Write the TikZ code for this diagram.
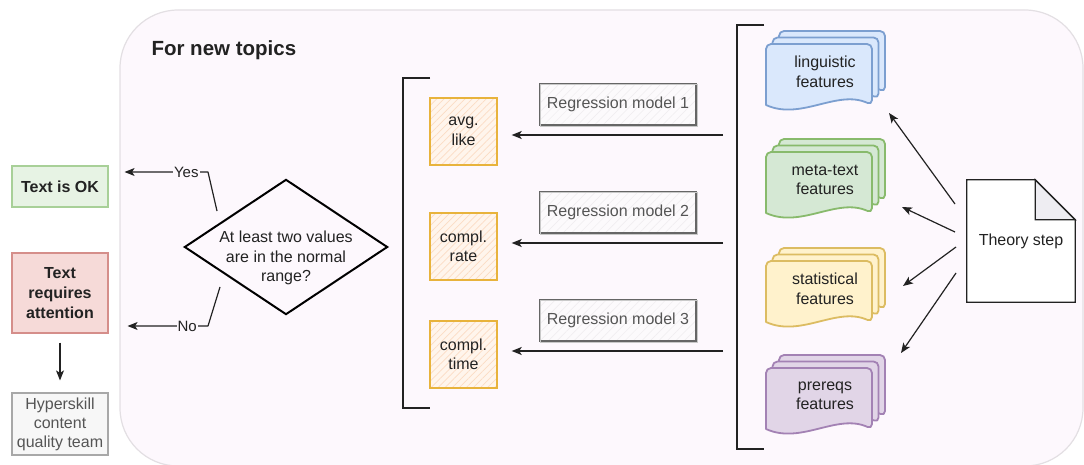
\documentclass[tikz,border=0pt]{standalone}
\usepackage{fontspec}
\setmainfont{Liberation Sans}
\usetikzlibrary{arrows.meta,patterns.meta}
\definecolor{bg}{HTML}{FDF8FD}
\definecolor{cborder}{HTML}{E3DFE3}
\definecolor{okfill}{HTML}{E7F3E4}
\definecolor{okdraw}{HTML}{A8D098}
\definecolor{attfill}{HTML}{F6DAD8}
\definecolor{attdraw}{HTML}{D58E8A}
\definecolor{hypfill}{HTML}{F7F7F7}
\definecolor{hypdraw}{HTML}{A8A8A8}
\definecolor{txtgray}{HTML}{555555}
\definecolor{orfill}{HTML}{FFF5EC}
\definecolor{orhatch}{HTML}{FBDCC4}
\definecolor{ordraw}{HTML}{E8B33C}
\definecolor{regfill}{HTML}{FCFAFC}
\definecolor{reghatch}{HTML}{EFECEF}
\definecolor{regdraw}{HTML}{666666}
\definecolor{bluefill}{HTML}{DAE8FC}
\definecolor{bluedraw}{HTML}{7C9FD0}
\definecolor{greenfill}{HTML}{D5E8D4}
\definecolor{greendraw}{HTML}{88BA6C}
\definecolor{yellowfill}{HTML}{FFF2CC}
\definecolor{yellowdraw}{HTML}{DCBC62}
\definecolor{purplefill}{HTML}{E1D5E7}
\definecolor{purpledraw}{HTML}{A382B4}
\definecolor{foldfill}{HTML}{EEEDF2}
\definecolor{dark}{HTML}{222222}
\tikzset{
  arr/.style={draw=dark, line width=1.2, -{Stealth[length=10pt,width=8pt,inset=2.5pt]}},
  sidebox/.style={minimum width=96, minimum height=41, inner sep=0pt, align=center, line width=1.2},
  orbox/.style={draw=ordraw, line width=1.4, minimum width=67, minimum height=67, inner sep=0pt, align=center, text=dark,
     preaction={fill=orfill}, preaction={pattern={Lines[angle=45,distance=5pt,line width=0.7pt]}, pattern color=orhatch}},
  regbox/.style={draw=regdraw, line width=1.1, minimum width=156, minimum height=41, inner sep=0pt, text=txtgray,
     preaction={fill=regfill}, preaction={pattern={Lines[angle=45,distance=6pt,line width=0.5pt]}, pattern color=reghatch}},
  bracket/.style={draw=dark, line width=2.4},
  lbl/.style={fill=bg, inner sep=1pt, text=dark, font=\fontsize{15}{18}\selectfont},
  doctext/.style={minimum width=106, minimum height=56, inner sep=0pt, align=center, text=dark},
}
\newcommand{\onedoc}[6]{% x ytop w h fill draw
  \filldraw[fill=#5, draw=#6, line width=1.8, line join=round, rounded corners=5pt]
    (#1,#2+#4) -- (#1,#2) -- (#1+#3,#2) -- (#1+#3,#2+#4) [sharp corners]
    .. controls (#1+0.67*#3,#2+#4-16) and (#1+0.33*#3,#2+#4+16) .. (#1,#2+#4) -- cycle;}
\newcommand{\featdoc}[6]{% x ytop fill draw name text
  \onedoc{#1+13}{#2-13}{106}{61}{#3}{#4}
  \onedoc{#1+6.5}{#2-6.5}{106}{61}{#3}{#4}
  \onedoc{#1}{#2}{106}{61}{#3}{#4}
  \node[doctext] (#5) at (#1+59,#2+28) {#6};}
\begin{document}
\begin{tikzpicture}[x=1pt,y=-1pt, font=\fontsize{16}{19.5}\selectfont]
\useasboundingbox (0,0) rectangle (1084,465);
% container
\draw[draw=cborder, fill=bg, line width=1.2, rounded corners=58] (120,10) rectangle (1083,466);
\node[anchor=west, text=dark, font=\fontsize{20.5}{24}\selectfont\bfseries] (title) at (148,50) {For new topics};

% left outcome boxes
\node[sidebox, draw=okdraw, fill=okfill, text=dark, font=\fontsize{16}{19.5}\selectfont\bfseries] (ok) at (60,186.5) {Text is OK};
\node[sidebox, draw=attdraw, fill=attfill, text=dark, minimum height=80, font=\fontsize{16}{20}\selectfont\bfseries] (att) at (60,293) {Text\\requires\\attention};
\node[sidebox, draw=hypdraw, fill=hypfill, text=txtgray, minimum height=62, font=\fontsize{16}{19}\selectfont] (hyp) at (60,424) {Hyperskill\\content\\quality team};
\draw[arr, shorten <=9pt, shorten >=12pt] (att) -- (hyp);

% decision
\node[minimum width=202, minimum height=134, inner sep=0pt] (dec) at (286,247) {};
\draw[draw=black, line width=2, line join=miter] (dec.west) -- (dec.north) -- (dec.east) -- (dec.south) -- cycle;
\node[align=center, text=dark, inner sep=0pt] (dectext) at ([yshift=-11pt]dec.center) {At least two values\\are in the normal\\range?};

\coordinate (ys) at (217,211);
\coordinate (yb) at (208,172);
\coordinate (ns) at (220,287);
\coordinate (nb) at (208,326);
\draw[arr, line join=round] (ys) -- (yb) -- node[lbl, pos=0.26] {Yes} ([xshift=16pt]ok.east |- yb);
\draw[arr, line join=round] (ns) -- (nb) -- node[lbl, pos=0.26] {No} ([xshift=19pt]ok.east |- nb);

% left bracket and targets
\draw[bracket] (430,78) -- (403,78) -- (403,408) -- (430,408);
\node[orbox] (avg) at (463.5,131.5) {avg.\\like};
\node[orbox] (rate) at (463.5,246.5) {compl.\\rate};
\node[orbox] (time) at (463.5,354.5) {compl.\\time};

% regression models
\foreach \i/\y in {1/104.5, 2/212.5, 3/320.5}{
  \node[regbox] (reg\i) at (618,\y) {Regression model \i};
  \draw[draw=regdraw!35, line width=0.8] ([shift={(1.2pt,-1.2pt)}]reg\i.north west) rectangle ([shift={(1.2pt,-1.2pt)}]reg\i.south east);
}
\coordinate (r1) at (723,135);
\coordinate (r2) at (723,243);
\coordinate (r3) at (723,351);
\draw[arr, shorten >=14pt] (r1) -- (avg.east |- r1);
\draw[arr, shorten >=14pt] (r2) -- (rate.east |- r2);
\draw[arr, shorten >=14pt] (r3) -- (time.east |- r3);

% right bracket and features
\draw[bracket] (764,25) -- (737,25) -- (737,449) -- (764,449);
\featdoc{766}{44}{bluefill}{bluedraw}{ling}{linguistic\\features}
\featdoc{766}{152}{greenfill}{greendraw}{meta}{meta-text\\features}
\featdoc{766}{261}{yellowfill}{yellowdraw}{stat}{statistical\\features}
\featdoc{766}{368}{purplefill}{purpledraw}{prer}{prereqs\\features}

% theory note
\node[minimum width=108, minimum height=122, inner sep=0pt] (theory) at (1021,241) {};
\draw[draw=dark, fill=white, line width=1.3, line join=miter]
  (theory.north west) -- ([xshift=-40pt]theory.north east) -- ([yshift=-40pt]theory.north east)
  -- (theory.south east) -- (theory.south west) -- cycle;
\filldraw[fill=foldfill, draw=dark, line width=1.3, line join=miter]
  ([xshift=-40pt]theory.north east) -- ([xshift=-40pt,yshift=-40pt]theory.north east) -- ([yshift=-40pt]theory.north east) -- cycle;
\node[text=dark] (theorytext) at (theory.center) {Theory step};

\coordinate (t1) at (955,204);
\coordinate (t2) at (955,232);
\coordinate (t3) at (956,247);
\coordinate (t4) at (956,273);
\coordinate (e1) at (889,113);
\coordinate (e2) at (902,207);
\coordinate (e3) at (903,286);
\coordinate (e4) at (901,353);
\draw[arr] (t1) -- (e1);
\draw[arr] (t2) -- (e2);
\draw[arr] (t3) -- (e3);
\draw[arr] (t4) -- (e4);
\end{tikzpicture}
\end{document}
